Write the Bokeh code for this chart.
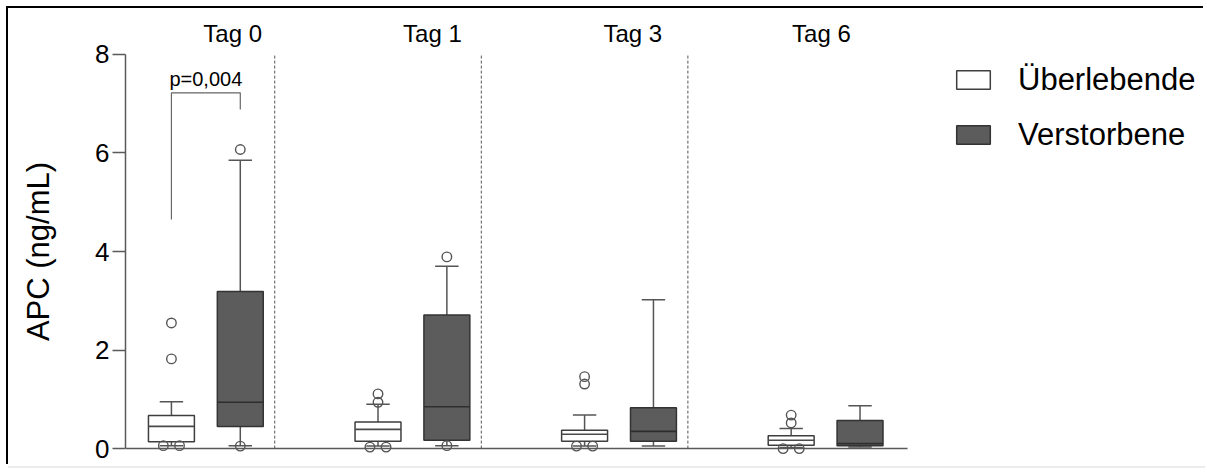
from bokeh.plotting import figure
from bokeh.models import (ColumnDataSource, Range1d, FixedTicker, LinearAxis, Legend, LegendItem)
from bokeh.core.properties import value
from bokeh.embed import file_html
from bokeh.resources import INLINE

# ---------------- data ----------------
days = ["Tag 0", "Tag 1", "Tag 3", "Tag 6"]
series = ["Überlebende", "Verstorbene"]

surv_q1 = [0.14, 0.15, 0.15, 0.07]
surv_med = [0.45, 0.39, 0.29, 0.17]
surv_q3 = [0.67, 0.54, 0.37, 0.26]
surv_lo = [0.06, 0.05, 0.05, 0.02]
surv_hi = [0.95, 0.90, 0.68, 0.41]
surv_out = [[0.06, 0.06, 1.82, 2.55], [0.03, 0.03, 0.94, 1.11],
            [0.05, 0.05, 1.31, 1.46], [0.0, 0.0, 0.52, 0.68]]

dec_q1 = [0.45, 0.17, 0.15, 0.06]
dec_med = [0.94, 0.85, 0.35, 0.10]
dec_q3 = [3.19, 2.71, 0.83, 0.57]
dec_lo = [0.06, 0.06, 0.05, 0.03]
dec_hi = [5.85, 3.70, 3.02, 0.87]
dec_out = [[0.05, 6.07], [0.06, 3.89], [], []]

y_ticks = [0, 2, 4, 6, 8]
p_text = "p=0,004"

# ---------------- layout / style ----------------
FONT = "Liberation Sans"
BOX_W = 0.667
CAP_W = 0.34
GROUP_STEP = 3
DARK_FILL = "#5c5c5c"
X_START = 0.333
X_AXIS_END = 11.69
X_END = 16.017

p = figure(frame_width=1080, frame_height=406,
           x_range=Range1d(X_START, X_END), y_range=Range1d(-0.12, 8.12),
           x_axis_location=None, output_backend="svg", toolbar_location=None,
           min_border_left=117, min_border_right=0, min_border_top=40,
           min_border_bottom=12, background_fill_color="white",
           border_fill_color="white", outline_line_color=None)
p.xgrid.visible = False
p.ygrid.visible = False
p.styles = {"margin-left": "8px", "margin-top": "8px",
            "box-shadow": "-2px -2px 0 0 #000000, 0 2px 0 0 #ececec"}

yax = p.yaxis[0]
yax.ticker = FixedTicker(ticks=y_ticks, minor_ticks=[])
yax.bounds = (0, 8)
yax.axis_label = "APC (ng/mL)"
yax.axis_label_text_font = FONT
yax.axis_label_text_font_size = "31px"
yax.axis_label_text_font_style = "normal"
yax.axis_label_text_color = "black"
yax.axis_label_standoff = 36
yax.major_label_text_font = FONT
yax.major_label_text_font_size = "26px"
yax.major_label_text_color = "black"
yax.major_label_standoff = 3
yax.major_tick_out = 13
yax.major_tick_in = 0
yax.minor_tick_out = 0
yax.minor_tick_in = 0
yax.axis_line_color = "#5a5a5a"
yax.axis_line_width = 1.5
yax.major_tick_line_color = "#5a5a5a"
yax.major_tick_line_width = 1.5

# day labels as a top axis without line/ticks
TAG_SHIFT = [0.39, 0.29, 0.20, -0.06]
tag_x = [round(GROUP_STEP * i + 1.5 + TAG_SHIFT[i], 2) for i in range(len(days))]
top_ax = LinearAxis(ticker=FixedTicker(ticks=tag_x, minor_ticks=[]),
                    major_label_overrides={t: d for t, d in zip(tag_x, days)},
                    axis_line_color=None, major_tick_line_color=None,
                    minor_tick_line_color=None, major_tick_out=0, major_tick_in=0,
                    major_label_standoff=2,
                    major_label_text_font=FONT, major_label_text_font_size="24px",
                    major_label_text_color="black")
p.add_layout(top_ax, "above")

# x baseline
p.segment(x0=[X_START], x1=[X_AXIS_END], y0=[0], y1=[0],
          line_color="#5a5a5a", line_width=1.5)

# group separators
sep_x = [GROUP_STEP * i + 2.5 for i in range(len(days) - 1)]
p.segment(x0=sep_x, x1=sep_x, y0=[0] * len(sep_x), y1=[8] * len(sep_x),
          line_color="#555555", line_width=1, line_dash="3 2")


def spread(vals, step=0.235, tol=0.05):
    """horizontal offsets for outliers that sit on top of each other"""
    vals = sorted(vals)
    offs = []
    i = 0
    while i < len(vals):
        j = i
        while j + 1 < len(vals) and abs(vals[j + 1] - vals[i]) < tol:
            j += 1
        n = j - i + 1
        for k in range(n):
            offs.append((vals[i + k], (k - (n - 1) / 2) * step))
        i = j + 1
    return offs


renderers = []
for s_idx, (q1, med, q3, lo, hi, outs, fill, lc, mc) in enumerate([
        (surv_q1, surv_med, surv_q3, surv_lo, surv_hi, surv_out, "white", "#3e3e3e", "#4a4a4a"),
        (dec_q1, dec_med, dec_q3, dec_lo, dec_hi, dec_out, DARK_FILL, "#333333", "#2e2e2e")]):
    xs = [GROUP_STEP * i + 1 + s_idx for i in range(len(days))]
    # whiskers
    p.segment(x0=xs + xs, x1=xs + xs, y0=q3 + q1, y1=hi + lo,
              line_color="#555555", line_width=1.5)
    p.segment(x0=[x - CAP_W / 2 for x in xs] * 2, x1=[x + CAP_W / 2 for x in xs] * 2,
              y0=hi + lo, y1=hi + lo, line_color="#555555", line_width=1.5)
    src = ColumnDataSource(dict(x=xs, top=q3, bottom=q1))
    r = p.vbar(x="x", top="top", bottom="bottom", width=BOX_W, source=src,
               fill_color=fill, line_color=lc, line_width=1.5)
    renderers.append(r)
    p.segment(x0=[x - BOX_W / 2 for x in xs], x1=[x + BOX_W / 2 for x in xs],
              y0=med, y1=med, line_color=mc, line_width=1.6)
    ox, oy = [], []
    for x, vals in zip(xs, outs):
        for v, off in spread(vals):
            ox.append(x + off)
            oy.append(v)
    p.scatter(ox, oy, marker="circle", size=9.5, fill_alpha=0,
              line_color="#555555", line_width=1.4)

# significance bracket (Tag 0)
p.line(x=[1, 1, 2, 2], y=[4.65, 7.22, 7.22, 6.88], line_color="#666666", line_width=1.2)
p.text(x=[1.5], y=[7.50], text=[p_text], text_font=value(FONT),
       text_font_size=value("20px"), text_align="center",
       text_baseline="alphabetic", text_color="black")

legend = Legend(items=[LegendItem(label=series[0], renderers=[renderers[0]]),
                       LegendItem(label=series[1], renderers=[renderers[1]])],
                location=(827, 298), orientation="vertical",
                glyph_width=42, glyph_height=23, label_standoff=24,
                label_height=43, label_text_font=FONT, label_text_font_size="31px",
                label_text_color="black", spacing=12, margin=0, padding=0,
                border_line_color=None, background_fill_alpha=0)
p.add_layout(legend, "center")

open("out.html", "w").write(file_html(p, INLINE))
